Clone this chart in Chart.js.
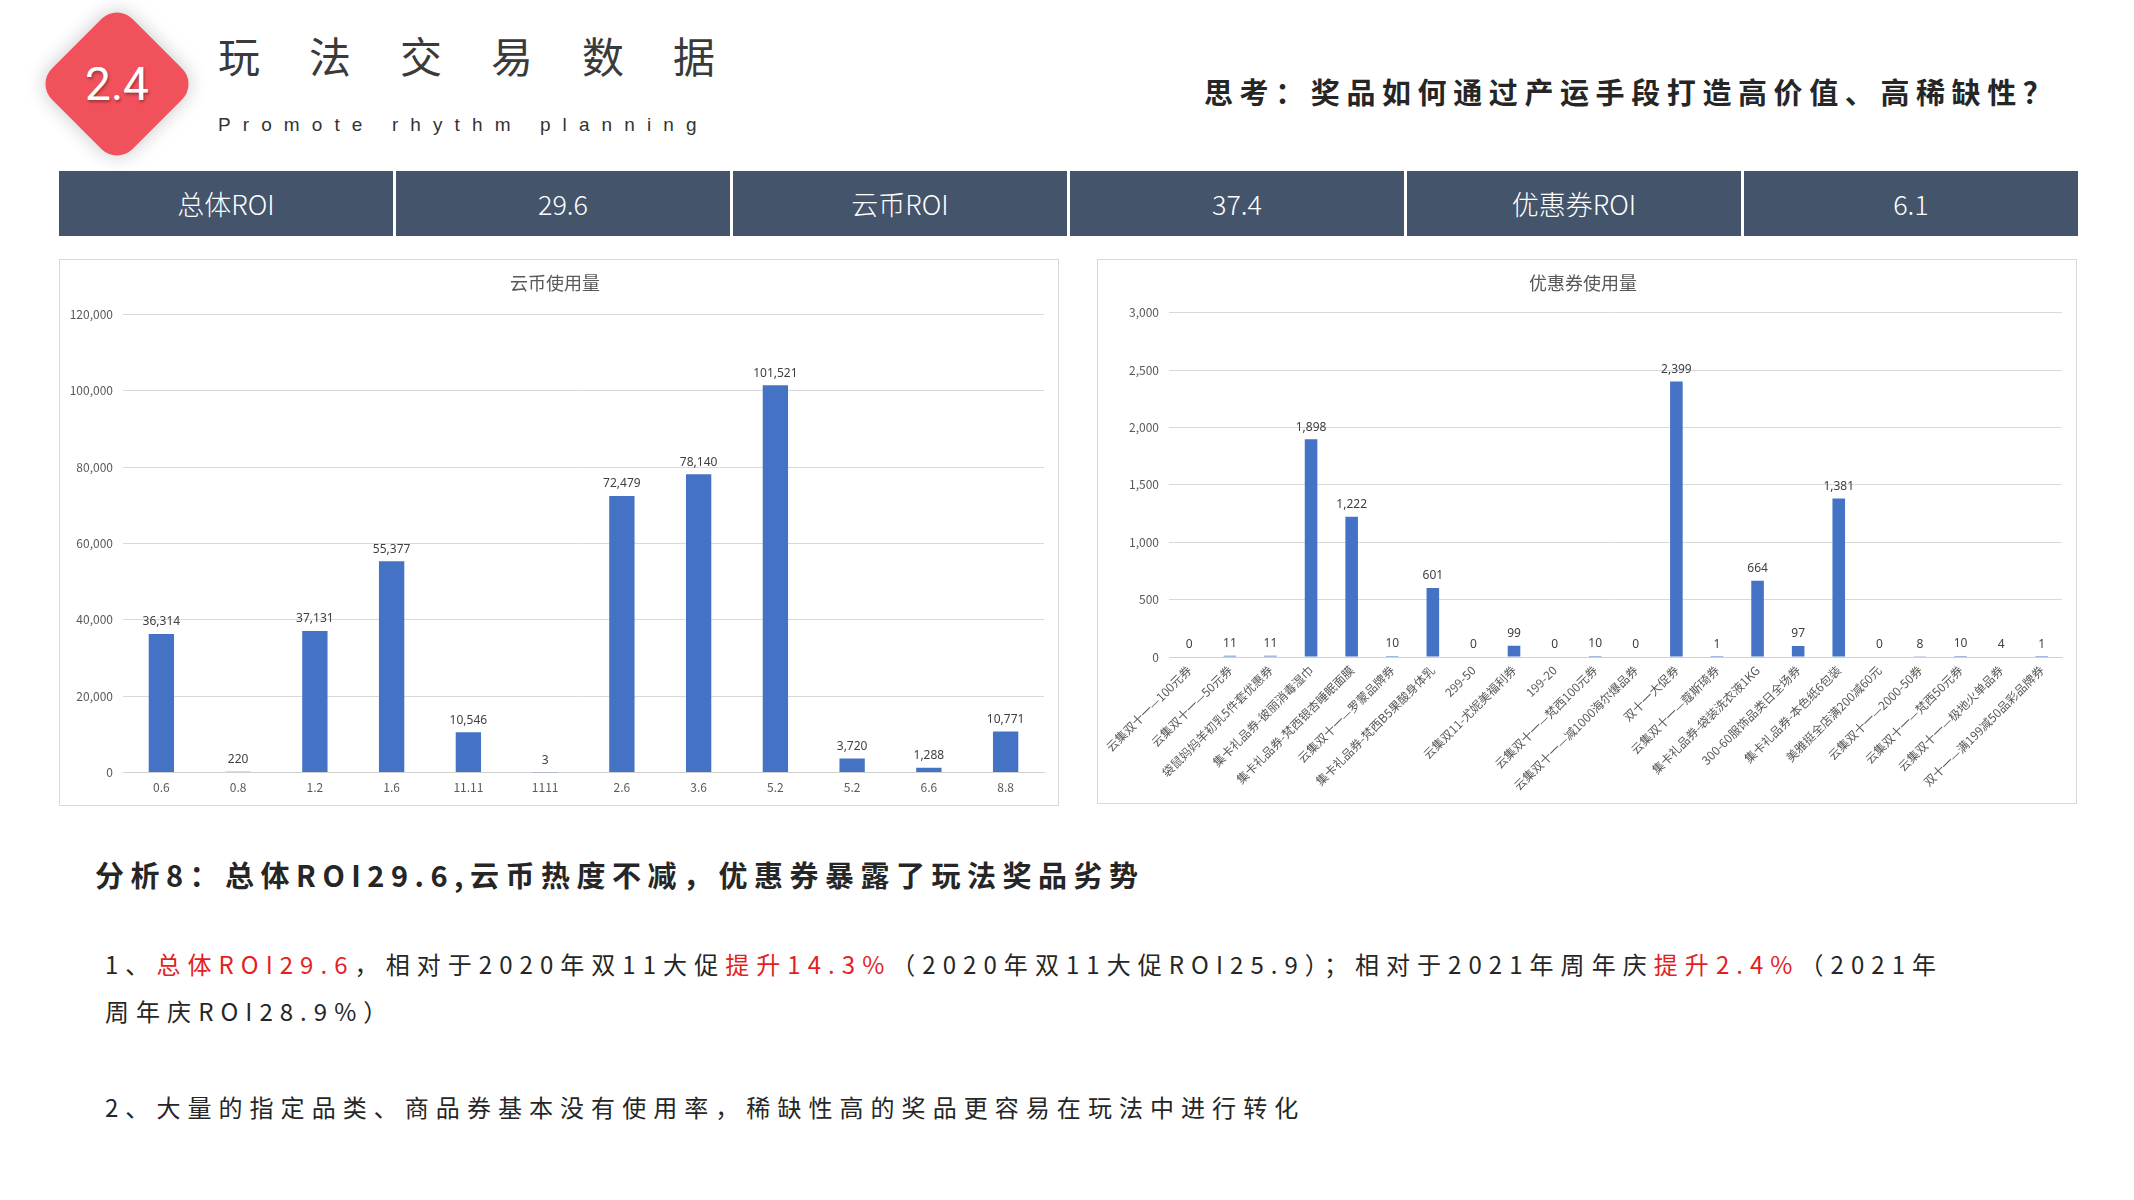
<!DOCTYPE html>
<html>
<head>
<meta charset="utf-8">
<script src="https://cdn.jsdelivr.net/npm/chart.js@4/dist/chart.umd.min.js"></script>
<style>
  body { margin: 0; background: #fff; width: 2134px; height: 1200px; position: relative; overflow: hidden;
         font-family: "Noto Sans CJK SC", "Noto Sans", sans-serif; }
  .abs { position: absolute; white-space: nowrap; }
  #badge { left: 60px; top: 27px; width: 114px; height: 114px; border-radius: 22px; background: #f0515a;
           transform: rotate(45deg); box-shadow: 0 0 20px rgba(0,0,0,0.22); }
  #badgeText { left: 67px; top: 56px; width: 100px; text-align: center; color: #fff; font-size: 46px;
               font-family: "Liberation Sans Narrow", Roboto, sans-serif; line-height: 56px;
               text-shadow: 1px 2px 3px rgba(0,0,0,0.35); }
  #title { left: 218px; top: 30px; font-size: 42px; letter-spacing: 49px; color: #3a3a3a; line-height: 50px; }
  #subtitle { left: 218px; top: 112px; font-size: 19px; letter-spacing: 12.1px; color: #333; line-height: 26px;
              font-family: "Liberation Sans", sans-serif; }
  #think { left: 1204px; top: 72px; font-size: 29px; font-weight: 700; letter-spacing: 6.6px; color: #262626; line-height: 38px; }
  #roi { left: 59px; top: 171px; width: 2019px; height: 65px; display: flex; gap: 3px; background: #fff; }
  #roi div { flex: 1; background: #44546a; color: #fff; font-size: 27px; line-height: 65px; text-align: center;
             font-family: "Liberation Sans Narrow", "Noto Sans CJK SC", sans-serif; font-weight: 300; }
  .box { position: absolute; border: 1.5px solid #d9d9d9; background: #fff; box-sizing: border-box; }
  #leftBox { left: 59px; top: 259px; width: 1000px; height: 547px; }
  #rightBox { left: 1097px; top: 259px; width: 980px; height: 545px; }
  #analysis { left: 95px; top: 855px; font-size: 29px; font-weight: 700; letter-spacing: 6.5px; color: #262626; line-height: 38px; }
  .para { left: 105px; font-size: 24px; letter-spacing: 7.05px; color: #262626; line-height: 32px; }
  .red { color: #e31f1f; }
</style>
</head>
<body>
<div id="badge" class="abs"></div>
<div id="badgeText" class="abs">2.4</div>
<div id="title" class="abs">玩法交易数据</div>
<div id="subtitle" class="abs">Promote rhythm planning</div>
<div id="think" class="abs">思考：奖品如何通过产运手段打造高价值、高稀缺性？</div>

<div id="roi" class="abs"></div>

<div id="leftBox" class="box"><canvas id="coinChart"></canvas></div>
<div id="rightBox" class="box"><canvas id="couponChart"></canvas></div>

<div id="analysis" class="abs">分析8：总体ROI29.6,云币热度不减，优惠券暴露了玩法奖品劣势</div>
<div class="abs para" style="top:948px;">1、<span class="red">总体ROI29.6</span>，相对于2020年双11大促<span class="red">提升14.3%</span>（2020年双11大促ROI25.9）；相对于2021年周年庆<span class="red">提升2.4%</span>（2021年</div>
<div class="abs para" style="top:995px;">周年庆ROI28.9%）</div>
<div class="abs para" style="top:1091px;">2、大量的指定品类、商品券基本没有使用率，稀缺性高的奖品更容易在玩法中进行转化</div>

<script>
// ROI strip
var roiCells = ["总体ROI", "29.6", "云币ROI", "37.4", "优惠券ROI", "6.1"];

// 云币使用量
var coinLabels = ["0.6", "0.8", "1.2", "1.6", "11.11", "1111", "2.6", "3.6", "5.2", "5.2", "6.6", "8.8"];
var coinValues = [36314, 220, 37131, 55377, 10546, 3, 72479, 78140, 101521, 3720, 1288, 10771];

// 优惠券使用量
var couponLabels = [
  "云集双十一—100元券", "云集双十一—50元券", "袋鼠妈妈羊初乳5件套优惠券", "集卡礼品券-彼丽消毒湿巾",
  "集卡礼品券-梵西银杏睡眠面膜", "云集双十一—罗蒙品牌券", "集卡礼品券-梵西B5果酸身体乳", "299-50",
  "云集双11-尤妮美福利券", "199-20", "云集双十一—梵西100元券", "云集双十一—减1000海尔爆品券",
  "双十一大促券", "云集双十一—蔻斯琦券", "集卡礼品券-袋装洗衣液1KG", "300-60服饰品类日全场券",
  "集卡礼品券-本色纸6包装", "美雅挺全店满200减60元", "云集双十一—2000-50券", "云集双十一—梵西50元券",
  "云集双十一—极地火单品券", "双十一—满199减50品彩品牌券"
];
var couponValues = [0, 11, 11, 1898, 1222, 10, 601, 0, 99, 0, 10, 0, 2399, 1, 664, 97, 1381, 0, 8, 10, 4, 1];

var roi = document.getElementById("roi");
roiCells.forEach(function(t) {
  var d = document.createElement("div");
  d.textContent = t;
  roi.appendChild(d);
});

var tickFont = { family: '"Liberation Sans Narrow", "Noto Sans CJK SC", sans-serif', size: 12 };
var barBlue = "#4472c4";

// writes the value above every bar
var valueLabels = {
  id: "valueLabels",
  afterDatasetsDraw: function(chart) {
    var ctx = chart.ctx;
    var meta = chart.getDatasetMeta(0);
    var data = chart.data.datasets[0].data;
    ctx.save();
    ctx.font = '12px "Liberation Sans Narrow", "Noto Sans", sans-serif';
    ctx.fillStyle = "#404040";
    ctx.textAlign = "center";
    ctx.textBaseline = "bottom";
    meta.data.forEach(function(bar, i) {
      ctx.fillText(data[i].toLocaleString("en-US"), bar.x, bar.y - 6);
    });
    ctx.restore();
  }
};

function makeChart(id, title, labels, values, max, step, yWidth, rotate, catPct, padBottom, tickPad, titleBottom) {
  return new Chart(document.getElementById(id), {
    type: "bar",
    data: {
      labels: labels,
      datasets: [{ data: values, backgroundColor: barBlue, barPercentage: 1, categoryPercentage: catPct }]
    },
    plugins: [valueLabels],
    options: {
      responsive: true,
      maintainAspectRatio: false,
      animation: false,
      layout: { padding: { left: 6, right: 14, top: 0, bottom: padBottom } },
      plugins: {
        legend: { display: false },
        tooltip: { enabled: false },
        title: {
          display: true, text: title, color: "#595959",
          font: { family: '"Noto Sans CJK SC", sans-serif', size: 18, weight: "normal" },
          padding: { top: 12, bottom: titleBottom }
        }
      },
      scales: {
        x: {
          grid: { display: false, drawTicks: false },
          border: { color: "#d0d0d0" },
          ticks: {
            color: "#595959", font: tickFont, padding: tickPad, autoSkip: false,
            maxRotation: rotate, minRotation: rotate
          }
        },
        y: {
          min: 0, max: max,
          grid: { color: "#d9d9d9", drawTicks: false },
          border: { display: false },
          ticks: { stepSize: step, color: "#595959", font: tickFont, padding: 10 },
          afterFit: function(s) { s.width = yWidth; }
        }
      }
    }
  });
}

makeChart("coinChart", "云币使用量", coinLabels, coinValues, 120000, 20000, 57, 0, 0.33, 2, 8, 21);
makeChart("couponChart", "优惠券使用量", couponLabels, couponValues, 3000, 500, 65, 45, 0.31, 4, 6, 19);
</script>
</body>
</html>
